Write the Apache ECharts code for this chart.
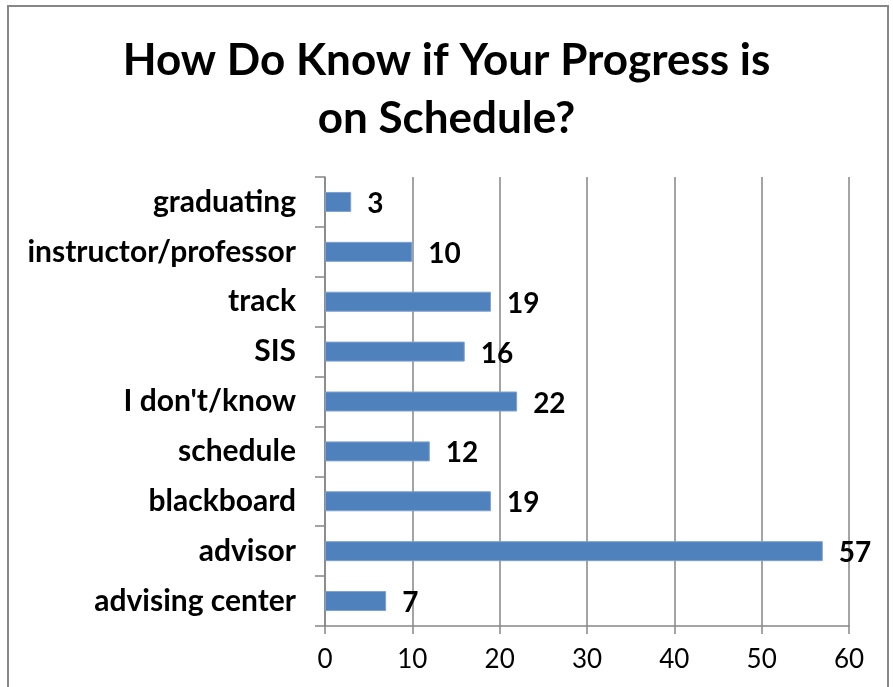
<!DOCTYPE html>
<html>
<head>
<meta charset="utf-8">
<script src="https://cdn.jsdelivr.net/npm/echarts@6/dist/echarts.min.js"></script>
<style>
  html, body { margin: 0; padding: 0; background: #fff; }
  #chart { width: 893px; height: 687px; }
</style>
</head>
<body>
<div id="chart"></div>
<script>
// categories listed bottom to top (echarts draws first category at the bottom)
var categories = ["advising center", "advisor", "blackboard", "schedule", "I don't/know", "SIS", "track", "instructor/professor", "graduating"];
var counts = [7, 57, 19, 12, 22, 16, 19, 10, 3];
var xTicks = [0, 10, 20, 30, 40, 50, 60];

var myChart = echarts.init(document.getElementById("chart"));
var font = "Lato, 'Open Sans', sans-serif";

var option = {
  animation: false,
  backgroundColor: "#fff",
  title: {
    text: "How Do Know if Your Progress is\non Schedule?",
    left: "center",
    top: 27,
    textStyle: { fontFamily: font, fontSize: 44, fontWeight: "bold", color: "#000", lineHeight: 58 }
  },
  graphic: [{
    type: "rect",
    shape: { x: 8, y: 6, width: 880, height: 700 },
    style: { fill: "none", stroke: "#878787", lineWidth: 2 },
    silent: true
  }],
  grid: { left: 325, right: 44, top: 177, bottom: 61 },
  xAxis: {
    type: "value",
    min: xTicks[0],
    max: xTicks[xTicks.length - 1],
    interval: 10,
    axisLine: { show: true, lineStyle: { color: "#868686", width: 1.5 } },
    axisTick: { show: true, length: 8, lineStyle: { color: "#868686", width: 1.5 } },
    splitLine: { show: true, lineStyle: { color: "#868686", width: 1.5 } },
    axisLabel: { fontFamily: font, fontSize: 26, color: "#000", margin: 21 }
  },
  yAxis: {
    type: "category",
    data: categories,
    axisLine: { show: true, lineStyle: { color: "#868686", width: 1.5 } },
    axisTick: { show: true, length: 10, lineStyle: { color: "#868686", width: 1.5 } },
    axisLabel: { fontFamily: font, fontSize: 30, fontWeight: "bold", color: "#000", margin: 29 }
  },
  series: [{
    type: "bar",
    data: counts,
    barWidth: 20,
    itemStyle: { color: "#4F81BD", borderColor: "#7EA1D1", borderWidth: 1 },
    label: {
      show: true,
      position: "right",
      distance: 16,
      fontFamily: font,
      fontSize: 28,
      fontWeight: "bold",
      color: "#000",
      offset: [0, 2]
    }
  }]
};
myChart.setOption(option);
</script>
</body>
</html>
